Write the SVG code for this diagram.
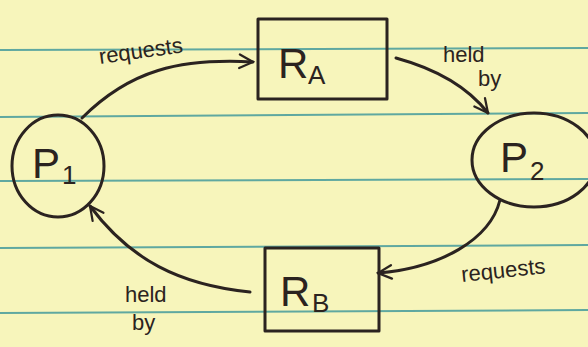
<svg xmlns="http://www.w3.org/2000/svg" width="588" height="347" viewBox="0 0 588 347">
<style>
.rule{stroke:#5fa8a0;stroke-width:2;fill:none}
.ink{stroke:#2b2320;stroke-width:3;fill:none;stroke-linecap:round;stroke-linejoin:round}
.lbl{font-family:"Liberation Sans",Arial,sans-serif;font-size:22px;fill:#2b2320}
.big{font-family:"Liberation Sans",Arial,sans-serif;font-size:42px;fill:#2b2320}
.sub{font-family:"Liberation Sans",Arial,sans-serif;font-size:26px;fill:#2b2320}
</style>
<defs>
<marker id="arr2" viewBox="0 0 24 24" refX="22" refY="12" markerWidth="18" markerHeight="18" orient="auto" markerUnits="userSpaceOnUse">
<path d="M4,3 L22,12 L4,21" fill="none" stroke="#2b2320" stroke-width="3" stroke-linecap="round"/>
</marker>
</defs>
<rect width="588" height="347" fill="#f7f5bb"/>
<g id="ruling">
<line class="rule" x1="0" y1="50" x2="588" y2="48"/>
<line class="rule" x1="0" y1="117" x2="588" y2="113"/>
<line class="rule" x1="0" y1="181" x2="588" y2="179"/>
<line class="rule" x1="0" y1="248" x2="588" y2="245"/>
<line class="rule" x1="0" y1="313" x2="588" y2="310"/>
</g>
<g id="connectors">
<path class="ink" d="M82,118 C130,70 180,58 253,62" marker-end="url(#arr2)"/>
<path class="ink" d="M396,58 C440,70 470,90 488,113" marker-end="url(#arr2)"/>
<path class="ink" d="M500,200 C490,240 440,268 378,273" marker-end="url(#arr2)"/>
<path class="ink" d="M250,292 C180,285 130,260 90,206" marker-end="url(#arr2)"/>
<text class="lbl" x="100" y="64" transform="rotate(-8 100 64)">requests</text>
<text class="lbl" x="443" y="62">held</text>
<text class="lbl" x="478" y="86">by</text>
<text class="lbl" x="462" y="282" transform="rotate(-6 462 282)">requests</text>
<text class="lbl" x="125" y="302">held</text>
<text class="lbl" x="132" y="330">by</text>
</g>
<g id="P1">
<ellipse class="ink" cx="58" cy="166" rx="46" ry="51"/>
<text class="big" x="32" y="178">P</text><text class="sub" x="62" y="184">1</text>
</g>
<g id="RA">
<rect class="ink" x="258" y="19" width="129" height="80"/>
<text class="big" x="278" y="78">R</text><text class="sub" x="308" y="84">A</text>
</g>
<g id="P2">
<ellipse class="ink" cx="534" cy="160" rx="62" ry="47"/>
<text class="big" x="500" y="172">P</text><text class="sub" x="530" y="180">2</text>
</g>
<g id="RB">
<rect class="ink" x="265" y="248" width="114" height="83"/>
<text class="big" x="280" y="306">R</text><text class="sub" x="312" y="312">B</text>
</g>
</svg>
